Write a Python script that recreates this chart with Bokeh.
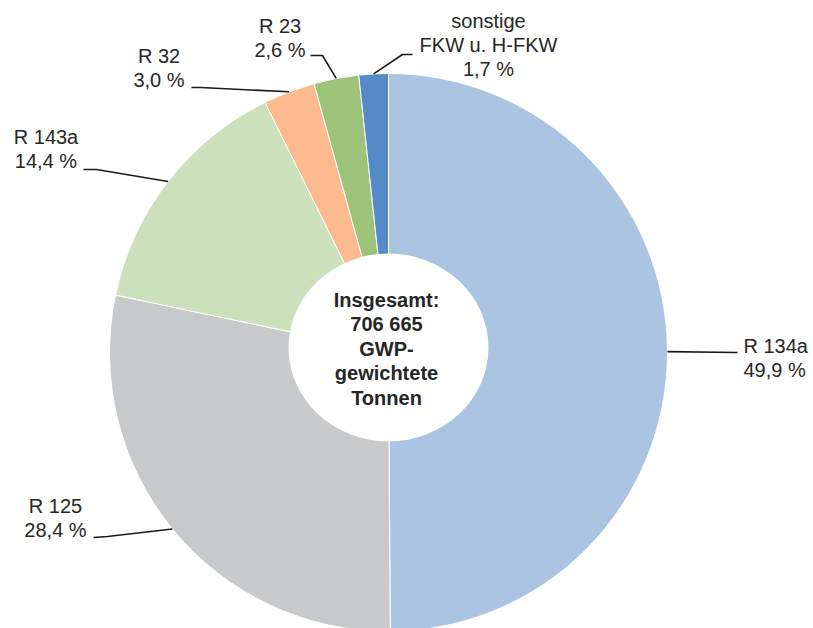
import math
from bokeh.plotting import figure
from bokeh.models import Range1d
from bokeh.core.properties import value
from bokeh.embed import file_html
from bokeh.resources import INLINE

# ---- data ----
categories = ["R 134a", "R 125", "R 143a", "R 32", "R 23", "sonstige\nFKW u. H-FKW"]
shares = [49.9, 28.4, 14.4, 3.0, 2.6, 1.7]
colors = ["#AAC4E2", "#C8C9CB", "#CDE0BC", "#FBBB8E", "#9DC37A", "#558AC9"]
center_text = ["Insgesamt:", "706 665", "GWP-", "gewichtete", "Tonnen"]

# ---- layout (pixel coordinates on the page) ----
W, H = 813, 628
CX, CY, R = 388, 352, 279
HOLE_CX, HOLE_CY, HOLE_W, HOLE_H = 388, 347, 200, 188
FONT = "Liberation Sans"
FS = "20px"
LINE_STEP = 24
TEXT_COLOR = "#262626"

def Y(py):
    return H - py

# label anchor (x, first-line y, align) and leader elbow points per slice
label_pos = [(743, 345, "left"), (55, 505.5, "center"), (45.5, 136.5, "center"),
             (158.5, 55.5, "center"), (279.5, 25, "center"), (488, 20, "center")]
leader_pts = [[(737, 352)], [(107, 536), (93, 537)], [(96, 169), (83, 169)],
              [(200, 87), (191, 87)], [(322, 55), (310, 55)], [(402, 54), (412, 54)]]

p = figure(width=W, height=H, output_backend="svg", toolbar_location=None,
           x_range=Range1d(0, W), y_range=Range1d(0, H),
           min_border=0, outline_line_color=None)
p.axis.visible = False
p.grid.visible = False
p.background_fill_color = "white"
p.border_fill_color = "white"

total = sum(shares)
cum = 0.0
starts, ends, mids = [], [], []
for s in shares:
    a0 = math.pi / 2 - 2 * math.pi * cum / total
    cum += s
    a1 = math.pi / 2 - 2 * math.pi * cum / total
    starts.append(a0)
    ends.append(a1)
    mids.append((a0 + a1) / 2)

p.wedge(x=[CX] * len(shares), y=[Y(CY)] * len(shares), radius=R,
        start_angle=starts, end_angle=ends, direction="clock",
        fill_color=colors, line_color="white", line_width=1)

# hole
p.ellipse(x=[HOLE_CX], y=[Y(HOLE_CY)], width=HOLE_W, height=HOLE_H,
          fill_color="white", line_color=None)

# leader lines and labels
for i, (cat, s) in enumerate(zip(categories, shares)):
    px = CX + R * math.cos(mids[i])
    py = CY - R * math.sin(mids[i])
    xs = [px] + [q[0] for q in leader_pts[i]]
    ys = [Y(py)] + [Y(q[1]) for q in leader_pts[i]]
    p.line(xs, ys, line_color="#1a1a1a", line_width=1.6)
    lines = cat.split("\n") + [f"{s:.1f}".replace(".", ",") + " %"]
    lx, ly, al = label_pos[i]
    p.text(x=[lx] * len(lines), y=[Y(ly + k * LINE_STEP) for k in range(len(lines))],
           text=lines, text_font=value(FONT), text_font_size=FS,
           text_align=al, text_baseline="middle", text_color=TEXT_COLOR)

# center text
p.text(x=[386] * len(center_text), y=[Y(299 + k * 24.5) for k in range(len(center_text))],
       text=center_text, text_font=value(FONT), text_font_size=FS, text_font_style="bold",
       text_align="center", text_baseline="middle", text_color=TEXT_COLOR)

open("out.html", "w").write(file_html(p, INLINE))
